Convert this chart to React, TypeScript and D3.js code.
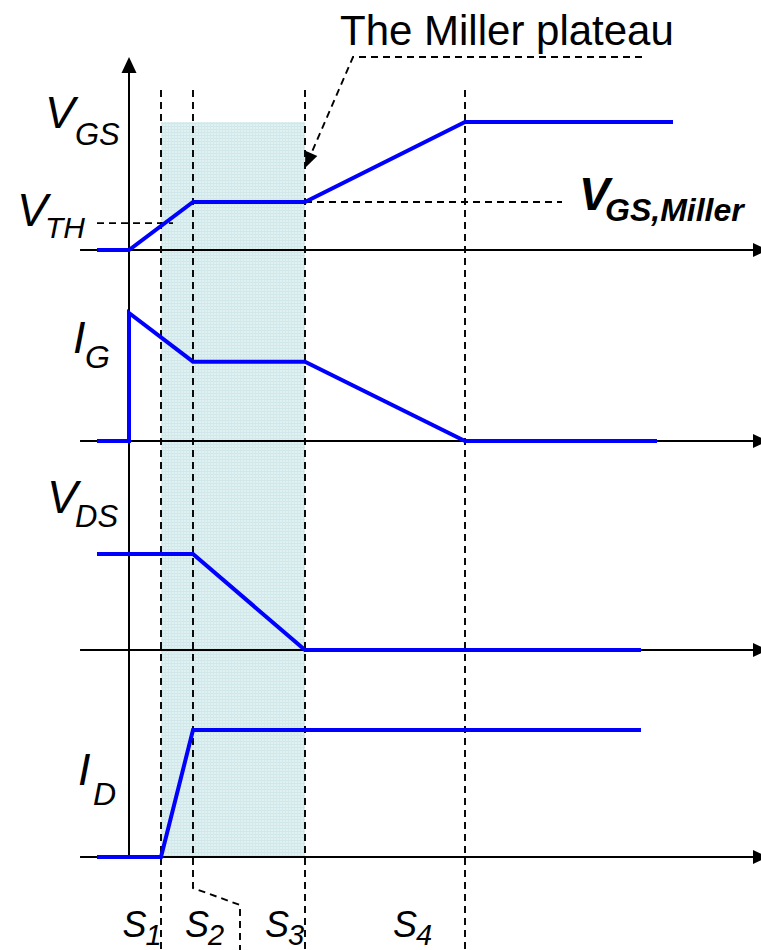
import React from "react";
import * as d3 from "d3";

// ---- data (time in arbitrary units, values normalised per panel) ----
const phaseBoundaries = [1, 2, 5.5, 10.5];
const phaseLabels = ["1", "2", "3", "4"];
const phaseLabelTimes = [-0.2, 1.75, 4.25, 8.25];

const vgsTime = [-1, 0, 2, 5.5, 10.5, 17];
const vgsValue = [0, 0, 3.75, 3.75, 10, 10];
const vthValue = 2.1;
const vgsMillerValue = 3.75;

const igTime = [-1, 0, 0, 2, 5.5, 10.5, 16.5];
const igValue = [0, 0, 1, 0.62, 0.62, 0, 0];

const vdsTime = [-1, 2, 5.5, 16];
const vdsValue = [1, 1, 0, 0];

const idTime = [-1, 1, 2, 16];
const idValue = [0, 0, 1, 1];

const W = 761;
const H = 950;
const FONT = "'Liberation Sans', Arial, Helvetica, sans-serif";
const BLUE = "#0000ff";

export default function App() {
  const x = d3.scaleLinear().domain([0, 17]).range([129, 673]);
  const yVgs = d3.scaleLinear().domain([0, 10]).range([250, 122]);
  const yIg = d3.scaleLinear().domain([0, 1]).range([441, 313]);
  const yVds = d3.scaleLinear().domain([0, 1]).range([650, 554]);
  const yId = d3.scaleLinear().domain([0, 1]).range([857, 730]);

  const mk = (ts: number[], vs: number[], y: d3.ScaleLinear<number, number>) =>
    d3.line<number>().x((_, i) => x(ts[i])).y((v) => y(v))(vs) || "";

  const axisLeft = x(-1.53);
  const axisRight = 753;
  const baselines = [yVgs(0), yIg(0), yVds(0), yId(0)];
  const xAxis0 = x(0);

  const dashTop = 90;
  const dash = "7,5";
  const dashW = 1.9;

  // Miller annotation arrow
  const tip: [number, number] = [x(5.5), 168];
  const corner: [number, number] = [353, 57];
  const dx = tip[0] - corner[0];
  const dy = tip[1] - corner[1];
  const len = Math.hypot(dx, dy);
  const ux = dx / len, uy = dy / len;
  const aL = 16, aW = 6.5;
  const bx = tip[0] - ux * aL, by = tip[1] - uy * aL;
  const arrowPts = [
    tip,
    [bx - uy * aW, by + ux * aW],
    [bx + uy * aW, by - ux * aW],
  ].map((p) => p.join(",")).join(" ");

  const italic = { fontFamily: FONT, fontStyle: "italic" as const };

  return (
    <svg
      width={W}
      height={H}
      style={{ position: "absolute", left: 0, top: 0, background: "#fff" }}
    >
      <defs>
        <pattern id="shade" width="3" height="3" patternUnits="userSpaceOnUse">
          <rect width="3" height="3" fill="#e0f1f1" />
          <rect width="3" height="1" fill="#d0e7e9" />
          <rect width="1" height="3" fill="#d4e9eb" />
        </pattern>
      </defs>

      {/* shaded Miller region */}
      <rect
        x={x(phaseBoundaries[0])}
        y={yVgs(10)}
        width={x(phaseBoundaries[2]) - x(phaseBoundaries[0])}
        height={yId(0) - yVgs(10)}
        fill="url(#shade)"
      />

      {/* vertical dashed phase lines */}
      {phaseBoundaries.map((t, i) =>
        i === 1 ? (
          <path
            key={i}
            d={`M${x(t)},${dashTop}L${x(t)},888L240,905L240,${H}`}
            fill="none"
            stroke="#000"
            strokeWidth={dashW}
            strokeDasharray={dash}
          />
        ) : (
          <line
            key={i}
            x1={x(t)}
            x2={x(t)}
            y1={dashTop}
            y2={H}
            stroke="#000"
            strokeWidth={dashW}
            strokeDasharray={dash}
          />
        )
      )}

      {/* horizontal dashed reference lines */}
      <line x1={97} x2={173} y1={yVgs(vthValue)} y2={yVgs(vthValue)} stroke="#000" strokeWidth={dashW} strokeDasharray={dash} />
      <line x1={x(5.5)} x2={562} y1={yVgs(vgsMillerValue)} y2={yVgs(vgsMillerValue)} stroke="#000" strokeWidth={dashW} strokeDasharray={dash} />

      {/* axes */}
      <line x1={xAxis0} x2={xAxis0} y1={yId(0)} y2={72} stroke="#000" strokeWidth={2} />
      <polygon points={`${xAxis0 - 7.5},73 ${xAxis0 + 7.5},73 ${xAxis0},57`} fill="#000" />
      {baselines.map((b, i) => (
        <g key={i}>
          <line x1={axisLeft} x2={axisRight} y1={b} y2={b} stroke="#000" strokeWidth={2} />
          <polygon points={`${axisRight},${b - 7} ${axisRight + 15},${b} ${axisRight},${b + 7}`} fill="#000" />
        </g>
      ))}

      {/* waveforms */}
      <g fill="none" stroke={BLUE} strokeWidth={4} strokeLinejoin="miter" strokeLinecap="butt">
        <path d={mk(vgsTime, vgsValue, yVgs)} />
        <path d={mk(igTime, igValue, yIg)} />
        <path d={mk(vdsTime, vdsValue, yVds)} />
        <path d={mk(idTime, idValue, yId)} />
      </g>

      {/* Miller plateau annotation */}
      <text x={340} y={45} fontFamily={FONT} fontSize={42} fill="#000">The Miller plateau</text>
      <path
        d={`M642,57L${corner[0]},${corner[1]}L${bx},${by}`}
        fill="none"
        stroke="#000"
        strokeWidth={dashW}
        strokeDasharray={dash}
      />
      <polygon points={arrowPts} fill="#000" />

      {/* signal labels */}
      <g fill="#000">
        <text x={45} y={128} fontSize={45} {...italic}>V</text>
        <text x={75} y={145} fontSize={31} {...italic}>GS</text>

        <text x={17} y={226} fontSize={46} {...italic}>V</text>
        <text x={45} y={238} fontSize={30} {...italic}>TH</text>

        <text x={73} y={353} fontSize={45} {...italic}>I</text>
        <text x={85} y={368} fontSize={32} {...italic}>G</text>

        <text x={47} y={513} fontSize={46} {...italic}>V</text>
        <text x={75} y={527} fontSize={31} {...italic}>DS</text>

        <text x={78} y={785} fontSize={45} {...italic}>I</text>
        <text x={93} y={805} fontSize={32} {...italic}>D</text>

        <text x={579} y={210} fontSize={46} fontWeight="bold" {...italic}>V</text>
        <text x={605} y={221} fontSize={32} fontWeight="bold" {...italic}>GS,Miller</text>

        {phaseLabels.map((s, i) => {
          const sx = x(phaseLabelTimes[i]);
          return (
            <g key={s}>
              <text x={sx} y={937} fontSize={36} {...italic}>S</text>
              <text x={sx + 23} y={945} fontSize={29} {...italic}>{s}</text>
            </g>
          );
        })}
      </g>
    </svg>
  );
}
